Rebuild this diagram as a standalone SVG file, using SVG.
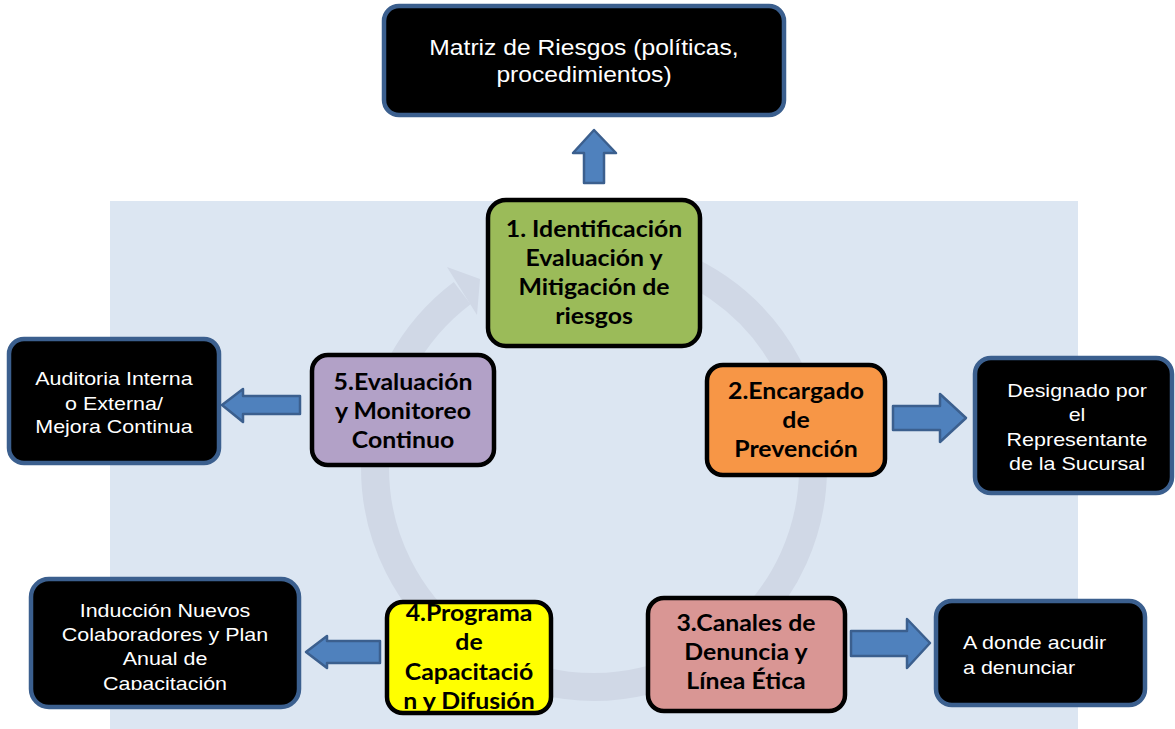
<svg xmlns="http://www.w3.org/2000/svg" width="1175" height="729" viewBox="0 0 1175 729">
<defs>
<style>
.bk{fill:#000;stroke:#3b5f8e;stroke-width:4.5}
.cb{stroke:#000;stroke-width:4.5}
.arr{fill:#4f81bd;stroke:#3b5f8e;stroke-width:2.5;stroke-linejoin:round}
.wt{font-family:"Liberation Sans",Arial,sans-serif;font-size:19px;fill:#fff;text-anchor:middle}
.bt{font-family:Lato,"Liberation Sans",sans-serif;font-weight:bold;font-size:23px;fill:#000;text-anchor:middle}
</style>
<clipPath id="clipY"><rect x="389" y="604" width="160" height="107" rx="10"/></clipPath>
<clipPath id="clipI"><rect x="30" y="580" width="270" height="110"/></clipPath>
</defs>
<rect x="110" y="201" width="968" height="528" fill="#dce6f2"/>
<g id="cycle">
<path d="M632,252.3 A219,219 0 1 1 462.2,293.1" fill="none" stroke="#d0d8e6" stroke-width="28"/>
<polygon points="447,267 480,279 477,315" fill="#d0d8e6"/>
</g>
<g id="connectors">
<polygon class="arr" points="584,183 584,153 573,153 594,130 616,153 604,153 604,183"/>
<polygon class="arr" points="893,406 940,406 940,394 966,418 940,442 940,430 893,430"/>
<polygon class="arr" points="851,631 907,631 907,619 930,643 907,668 907,656 851,656"/>
<polygon class="arr" points="300,396 243,396 243,389 222,405 243,422 243,414 300,414"/>
<polygon class="arr" points="380,641 327,641 327,636 306,652 327,668 327,663 380,663"/>
</g>
<g id="matriz">
<rect class="bk" x="384" y="6" width="400" height="109" rx="15"/>
<g transform="matrix(1.12 0 0 1 584 0)"><text class="wt" x="0" y="55" style="font-size:22px">Matriz de Riesgos (políticas,</text><text class="wt" x="0" y="82" style="font-size:22px">procedimientos)</text></g>
</g>
<g id="n1">
<rect class="cb" x="488" y="200" width="212" height="146" rx="18" fill="#9bbb59"/>
<g transform="matrix(1.08 0 0 1 594 0)">
<text class="bt" x="0" y="237">1. Identificación</text>
<text class="bt" x="0" y="266">Evaluación y</text>
<text class="bt" x="0" y="295">Mitigación de</text>
<text class="bt" x="0" y="324">riesgos</text>
</g>
</g>
<g id="n2">
<rect class="cb" x="707" y="365" width="178" height="110" rx="16" fill="#f79646"/>
<g transform="matrix(1.08 0 0 1 796 0)">
<text class="bt" x="0" y="399">2.Encargado</text>
<text class="bt" x="0" y="428">de</text>
<text class="bt" x="0" y="457">Prevención</text>
</g>
</g>
<g id="designado">
<rect class="bk" x="975" y="358" width="197" height="135" rx="16"/>
<g transform="matrix(1.13 0 0 1 1077 0)">
<text class="wt" x="0" y="397">Designado por</text>
<text class="wt" x="0" y="421">el</text>
<text class="wt" x="0" y="446">Representante</text>
<text class="wt" x="0" y="470">de la Sucursal</text>
</g>
</g>
<g id="n3">
<rect class="cb" x="648" y="598" width="197" height="113" rx="16" fill="#d99694"/>
<g transform="matrix(1.08 0 0 1 746 0)">
<text class="bt" x="0" y="631">3.Canales de</text>
<text class="bt" x="0" y="660">Denuncia y</text>
<text class="bt" x="0" y="689">Línea Ética</text>
</g>
</g>
<g id="denunciar">
<rect class="bk" x="936" y="601" width="209" height="104" rx="16"/>
<g transform="matrix(1.13 0 0 1 963 0)">
<text class="wt" x="0" y="649" style="text-anchor:start">A donde acudir</text>
<text class="wt" x="0" y="674" style="text-anchor:start">a denunciar</text>
</g>
</g>
<g id="n4">
<rect class="cb" x="387" y="602" width="164" height="111" rx="16" fill="#ffff00"/>
<g clip-path="url(#clipY)">
<g transform="matrix(1.08 0 0 1 469 0)">
<text class="bt" x="0" y="621">4.Programa</text>
<text class="bt" x="0" y="650">de</text>
<text class="bt" x="0" y="680">Capacitació</text>
<text class="bt" x="0" y="709">n y Difusión</text>
</g>
</g>
</g>
<g id="induccion">
<rect class="bk" x="31" y="579" width="268" height="128" rx="18"/>
<g clip-path="url(#clipI)">
<g transform="matrix(1.13 0 0 1 165 0)">
<text class="wt" x="0" y="617">Inducción Nuevos</text>
<text class="wt" x="0" y="641">Colaboradores y Plan</text>
<text class="wt" x="0" y="665">Anual de</text>
<text class="wt" x="0" y="690">Capacitación</text>
</g>
</g>
</g>
<g id="n5">
<rect class="cb" x="312" y="355" width="182" height="110" rx="16" fill="#b2a1c7"/>
<g transform="matrix(1.08 0 0 1 403 0)">
<text class="bt" x="0" y="390">5.Evaluación</text>
<text class="bt" x="0" y="419">y Monitoreo</text>
<text class="bt" x="0" y="448">Continuo</text>
</g>
</g>
<g id="auditoria">
<rect class="bk" x="9" y="339" width="210" height="124" rx="15"/>
<g transform="matrix(1.13 0 0 1 114 0)">
<text class="wt" x="0" y="385">Auditoria Interna</text>
<text class="wt" x="0" y="410">o Externa/</text>
<text class="wt" x="0" y="433">Mejora Continua</text>
</g>
</g>
</svg>
